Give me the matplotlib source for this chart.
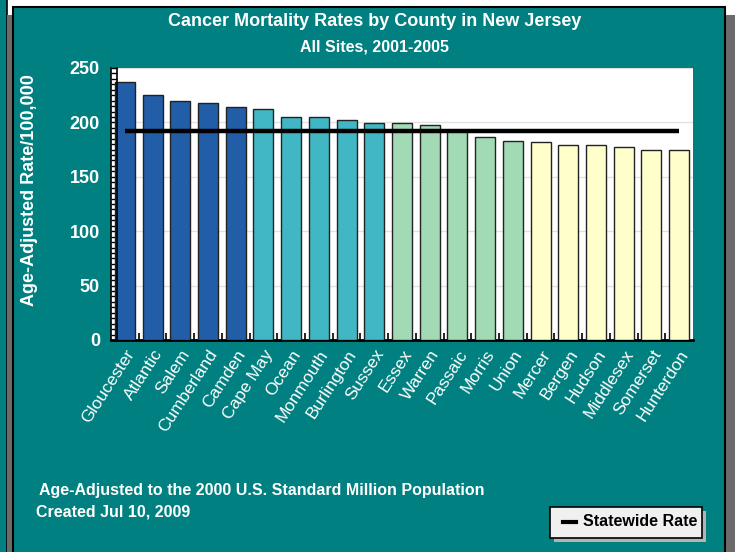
import numpy as np
import matplotlib
matplotlib.use("Agg")
import matplotlib.pyplot as plt
import matplotlib.transforms as mtransforms
from matplotlib.patches import Rectangle
from matplotlib.lines import Line2D

plt.rcParams['font.family'] = ['Liberation Sans Narrow', 'Liberation Sans', 'DejaVu Sans']

counties = ['Gloucester', 'Atlantic', 'Salem', 'Cumberland', 'Camden', 'Cape May',
            'Ocean', 'Monmouth', 'Burlington', 'Sussex', 'Essex', 'Warren', 'Passaic',
            'Morris', 'Union', 'Mercer', 'Bergen', 'Hudson', 'Middlesex', 'Somerset',
            'Hunterdon']
rates = [237.1, 225.2, 219.6, 218.1, 214.1, 212.6, 204.6, 204.6, 201.8, 199.4,
         199.4, 197.9, 193.2, 186.8, 183.1, 181.6, 178.8, 178.8, 177.3, 174.8, 174.8]
# quintile group for each county (0 = highest)
groups = [0, 0, 0, 0, 0, 1, 1, 1, 1, 1, 2, 2, 2, 2, 2, 3, 3, 3, 3, 3, 3]
group_colors = ['#225ea8', '#41b6c4', '#a1dab4', '#ffffcc']
statewide = 192.3

TEAL = '#008080'
W, H = 735, 552

fig = plt.figure(figsize=(7.35, 5.52), dpi=100, facecolor='white')

def px_rect(x0, y0, x1, y1, **kw):
    # rectangle given in pixel coords from the top-left corner
    r = Rectangle((x0 / W, 1 - y1 / H), (x1 - x0) / W, (y1 - y0) / H,
                  transform=fig.transFigure, figure=fig, **kw)
    fig.patches.append(r)
    return r

# neighbouring panel and drop shadows
px_rect(-2, -2, 6.5, H + 2, facecolor=TEAL, edgecolor='black', lw=1.2)
px_rect(7, 15, 13, H + 2, facecolor='#6b6b6b', edgecolor='none')
px_rect(725, 15, 735, H + 2, facecolor='#6b6b6b', edgecolor='none')
# main panel
px_rect(13, 7, 725, H + 5, facecolor=TEAL, edgecolor='black', lw=1.5)

ax = fig.add_axes([111 / W, 1 - 340 / H, (693 - 111) / W, (340 - 68) / H])
ax.set_zorder(5)
ax.set_facecolor('white')

x = np.arange(len(counties))
colors = [group_colors[g] for g in groups]
ax.bar(x, rates, width=0.72, color=colors, edgecolor='#222222', linewidth=1.0, zorder=3)
ax.plot([x[0], x[-1]], [statewide, statewide], color='black', lw=3.2, zorder=4,
        solid_capstyle='butt')

ax.set_xlim(-0.5, len(counties) - 0.5)
ax.set_ylim(0, 250)
ax.set_yticks(np.arange(0, 251, 50))
ax.set_yticks(np.arange(0, 251, 5), minor=True)
ax.yaxis.grid(True, color='#e2e2e2', lw=1.0, zorder=0)
ax.tick_params(axis='y', which='both', direction='in', length=4, width=1.0,
               colors='black', labelcolor='white', labelsize=13, pad=8)
for lab in ax.get_yticklabels():
    lab.set_fontweight('bold')

ax.set_xticks(x)
ax.set_xticklabels(counties, rotation=57, ha='right', va='top',
                   rotation_mode='anchor', color='white', fontsize=12.5,
                   family=['Liberation Sans', 'DejaVu Sans'])
shift = mtransforms.ScaledTranslation(-5 / 100, 0, fig.dpi_scale_trans)
for lab in ax.get_xticklabels():
    lab.set_transform(lab.get_transform() + shift)
ax.tick_params(axis='x', which='major', length=0, pad=5)
ax.set_xticks(x[:-1] + 0.5, minor=True)
ax.tick_params(axis='x', which='minor', direction='in', length=5, width=1.2,
               colors='black')

for s in ['top', 'right']:
    ax.spines[s].set_visible(False)
ax.spines['left'].set_linewidth(1.2)
ax.spines['bottom'].set_linewidth(2.0)
# second rail of the ruler-style y axis
ax.add_line(Line2D([5.5 / 582, 5.5 / 582], [0, 1], transform=ax.transAxes,
                   color='black', lw=1.2, zorder=5, clip_on=False))

fig.text(30 / W, 1 - 190 / H, 'Age-Adjusted Rate/100,000', rotation=90,
         ha='center', va='center', color='white', fontsize=13, fontweight='bold')

fig.text(375 / W, 1 - 22 / H, 'Cancer Mortality Rates by County in New Jersey',
         ha='center', va='center', color='white', fontsize=13, fontweight='bold')
fig.text(375 / W, 1 - 47 / H, 'All Sites, 2001-2005',
         ha='center', va='center', color='white', fontsize=11.5, fontweight='bold')

fig.text(39 / W, 1 - 491 / H, 'Age-Adjusted to the 2000 U.S. Standard Million Population',
         ha='left', va='center', color='white', fontsize=11.5, fontweight='bold')
fig.text(36 / W, 1 - 512 / H, 'Created Jul 10, 2009',
         ha='left', va='center', color='white', fontsize=11.5, fontweight='bold')

# legend box with shadow
px_rect(554, 511, 706, 542, facecolor='#b4b4b4', edgecolor='none')
px_rect(550, 507, 702, 538, facecolor='#f0f0f0', edgecolor='black', lw=1.2)
fig.lines.append(Line2D([563 / W, 576 / W], [1 - 522 / H, 1 - 522 / H],
                        transform=fig.transFigure, color='black', lw=3))
fig.text(583 / W, 1 - 522 / H, 'Statewide Rate', ha='left', va='center',
         color='black', fontsize=11.5, fontweight='bold')

fig.savefig('out.png', dpi=100, facecolor=fig.get_facecolor())
